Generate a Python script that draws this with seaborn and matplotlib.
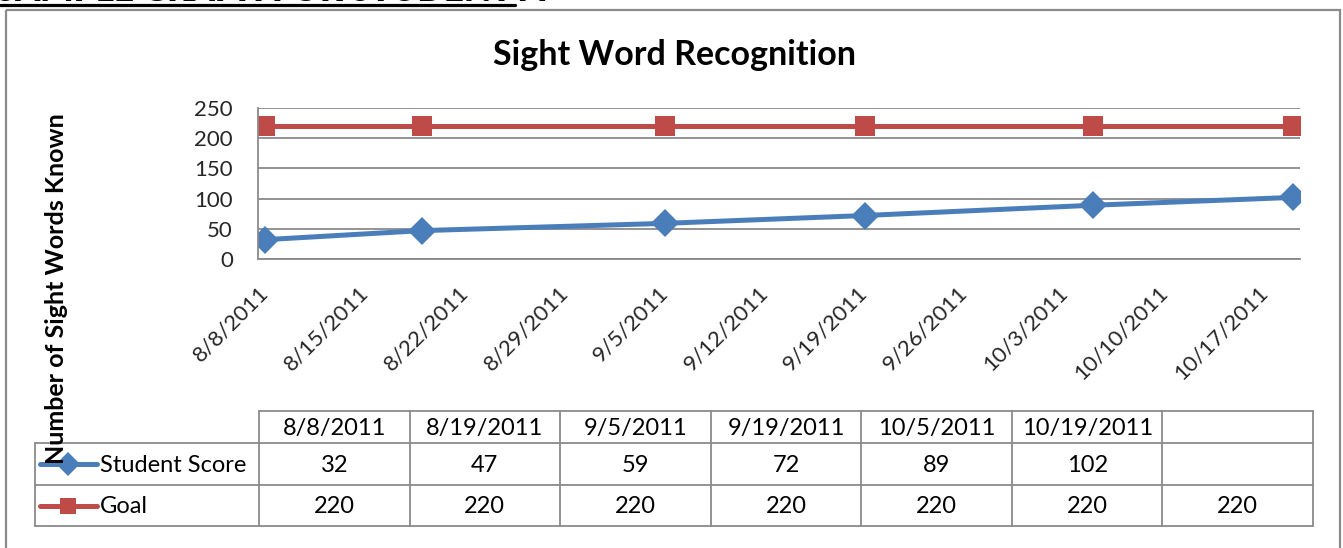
import matplotlib
matplotlib.use("Agg")
import matplotlib.pyplot as plt
import seaborn as sns
import pandas as pd
from matplotlib.patches import Rectangle
from matplotlib.lines import Line2D

# ---- chart content ----
heading = "SAMPLE GRAPH FOR STUDENT A"
title = "Sight Word Recognition"
y_label = "Number of Sight Words Known"
series_names = ["Student Score", "Goal"]

score_dates = ["2011-08-08", "2011-08-19", "2011-09-05",
               "2011-09-19", "2011-10-05", "2011-10-19"]
date_labels = ["8/8/2011", "8/19/2011", "9/5/2011", "9/19/2011",
               "10/5/2011", "10/19/2011", ""]
student_score = [32, 47, 59, 72, 89, 102]
goal = [220, 220, 220, 220, 220, 220, 220]
y_ticks = [0, 50, 100, 150, 200, 250]

BLUE = "#4A7EBB"
RED = "#BE4B48"
GREY = "#8A8A8A"

W, H = 1343, 548
sns.set_theme(style="white")
plt.rcParams["font.family"] = ["Lato", "DejaVu Sans"]
plt.rcParams["text.color"] = "black"

fig = plt.figure(figsize=(W / 100, H / 100), dpi=100)


def px_rect(x0, y0, x1, y1):
    """Axes rectangle given in pixel coordinates measured from the top-left."""
    return [x0 / W, 1 - y1 / H, (x1 - x0) / W, (y1 - y0) / H]


# ---- line chart ----
ax = fig.add_axes(px_rect(258, 108, 1300, 259))
dates = pd.to_datetime(score_dates)
df_score = pd.DataFrame({"date": dates, "value": student_score})
df_goal = pd.DataFrame({"date": dates, "value": goal[:len(dates)]})

sns.lineplot(data=df_goal, x="date", y="value", ax=ax, color=RED,
             linewidth=3.6, marker="s", markersize=14, markeredgewidth=0)
sns.lineplot(data=df_score, x="date", y="value", ax=ax, color=BLUE,
             linewidth=3.6, marker="D", markersize=14, markeredgewidth=0)

half_day = pd.Timedelta(hours=12)
ax.set_xlim(dates[0] - half_day, dates[-1] + half_day)
ax.set_ylim(y_ticks[0], y_ticks[-1])
ax.set_yticks(y_ticks)
ax.set_yticklabels([str(v) for v in y_ticks], fontsize=16)

week_ticks = pd.date_range(dates[0], dates[-1], freq="7D")
ax.set_xticks(week_ticks)
ax.set_xticklabels([f"{d.month}/{d.day}/{d.year}" for d in week_ticks],
                   rotation=45, ha="right", va="center",
                   rotation_mode="anchor", fontsize=16)
ax.tick_params(axis="x", length=0, pad=22)
ax.tick_params(axis="y", length=0, pad=18)
ax.set_xlabel("")
ax.set_ylabel("")
ax.grid(axis="y", color=GREY, linewidth=1.3)
ax.set_axisbelow(True)
for side in ("top", "right"):
    ax.spines[side].set_visible(False)
for side in ("left", "bottom"):
    ax.spines[side].set_color(GREY)
    ax.spines[side].set_linewidth(1.3)

# ---- titles ----
fig.text(675 / W, 1 - 55 / H, title, ha="center", va="center",
         fontsize=24.5, fontweight="bold")
fig.text(57 / W, 1 - 289 / H, y_label, rotation=90, ha="center",
         va="center", fontsize=18, fontweight="bold")

# ---- overlay in pixel coordinates: frame, heading, data table ----
ov = fig.add_axes([0, 0, 1, 1], zorder=-1)
ov.set_xlim(0, W)
ov.set_ylim(H, 0)
ov.axis("off")

ov.add_patch(Rectangle((6, 10), 1334, 600, fill=False, edgecolor=GREY,
                       linewidth=1.6, clip_on=False))
ov.text(-4, 1.0, heading, ha="left", va="baseline", fontsize=25,
        fontweight="heavy", clip_on=False)
ov.add_line(Line2D([0, 515], [4.5, 4.5], color="black", linewidth=2.3))

tab = fig.add_axes([0, 0, 1, 1], zorder=2)
tab.set_xlim(0, W)
tab.set_ylim(H, 0)
tab.axis("off")
tab.patch.set_alpha(0)

col_left, col_right = 259, 1313
leg_left = 35
rows = [411, 443, 485, 526]
n_cols = len(date_labels)
col_w = (col_right - col_left) / n_cols
tline = dict(color=GREY, linewidth=1.3)
TFS = 17

tab.plot([col_left, col_right], [rows[0], rows[0]], **tline)
for r in rows[1:]:
    tab.plot([leg_left, col_right], [r, r], **tline)
tab.plot([leg_left, leg_left], [rows[1], rows[3]], **tline)
for i in range(n_cols + 1):
    x = col_left + i * col_w
    tab.plot([x, x], [rows[0], rows[3]], **tline)

row_series = [student_score, goal]
row_colors = [BLUE, RED]
row_markers = ["D", "s"]
for i, lab in enumerate(date_labels):
    cx = col_left + (i + 0.5) * col_w
    tab.text(cx, (rows[0] + rows[1]) / 2 + 1, lab, ha="center",
             va="center", fontsize=TFS)
    for j, vals in enumerate(row_series):
        if i < len(vals):
            cy = (rows[j + 1] + rows[j + 2]) / 2 + 1
            tab.text(cx, cy, str(vals[i]), ha="center", va="center",
                     fontsize=TFS)

for j, name in enumerate(series_names):
    cy = (rows[j + 1] + rows[j + 2]) / 2
    tab.plot([40, 97], [cy, cy], color=row_colors[j], linewidth=3.6,
             solid_capstyle="round")
    tab.plot([68], [cy], marker=row_markers[j], color=row_colors[j],
             markersize=12, markeredgewidth=0)
    tab.text(100, cy + 1, name, ha="left", va="center", fontsize=TFS)

fig.savefig("out.png", dpi=100)
